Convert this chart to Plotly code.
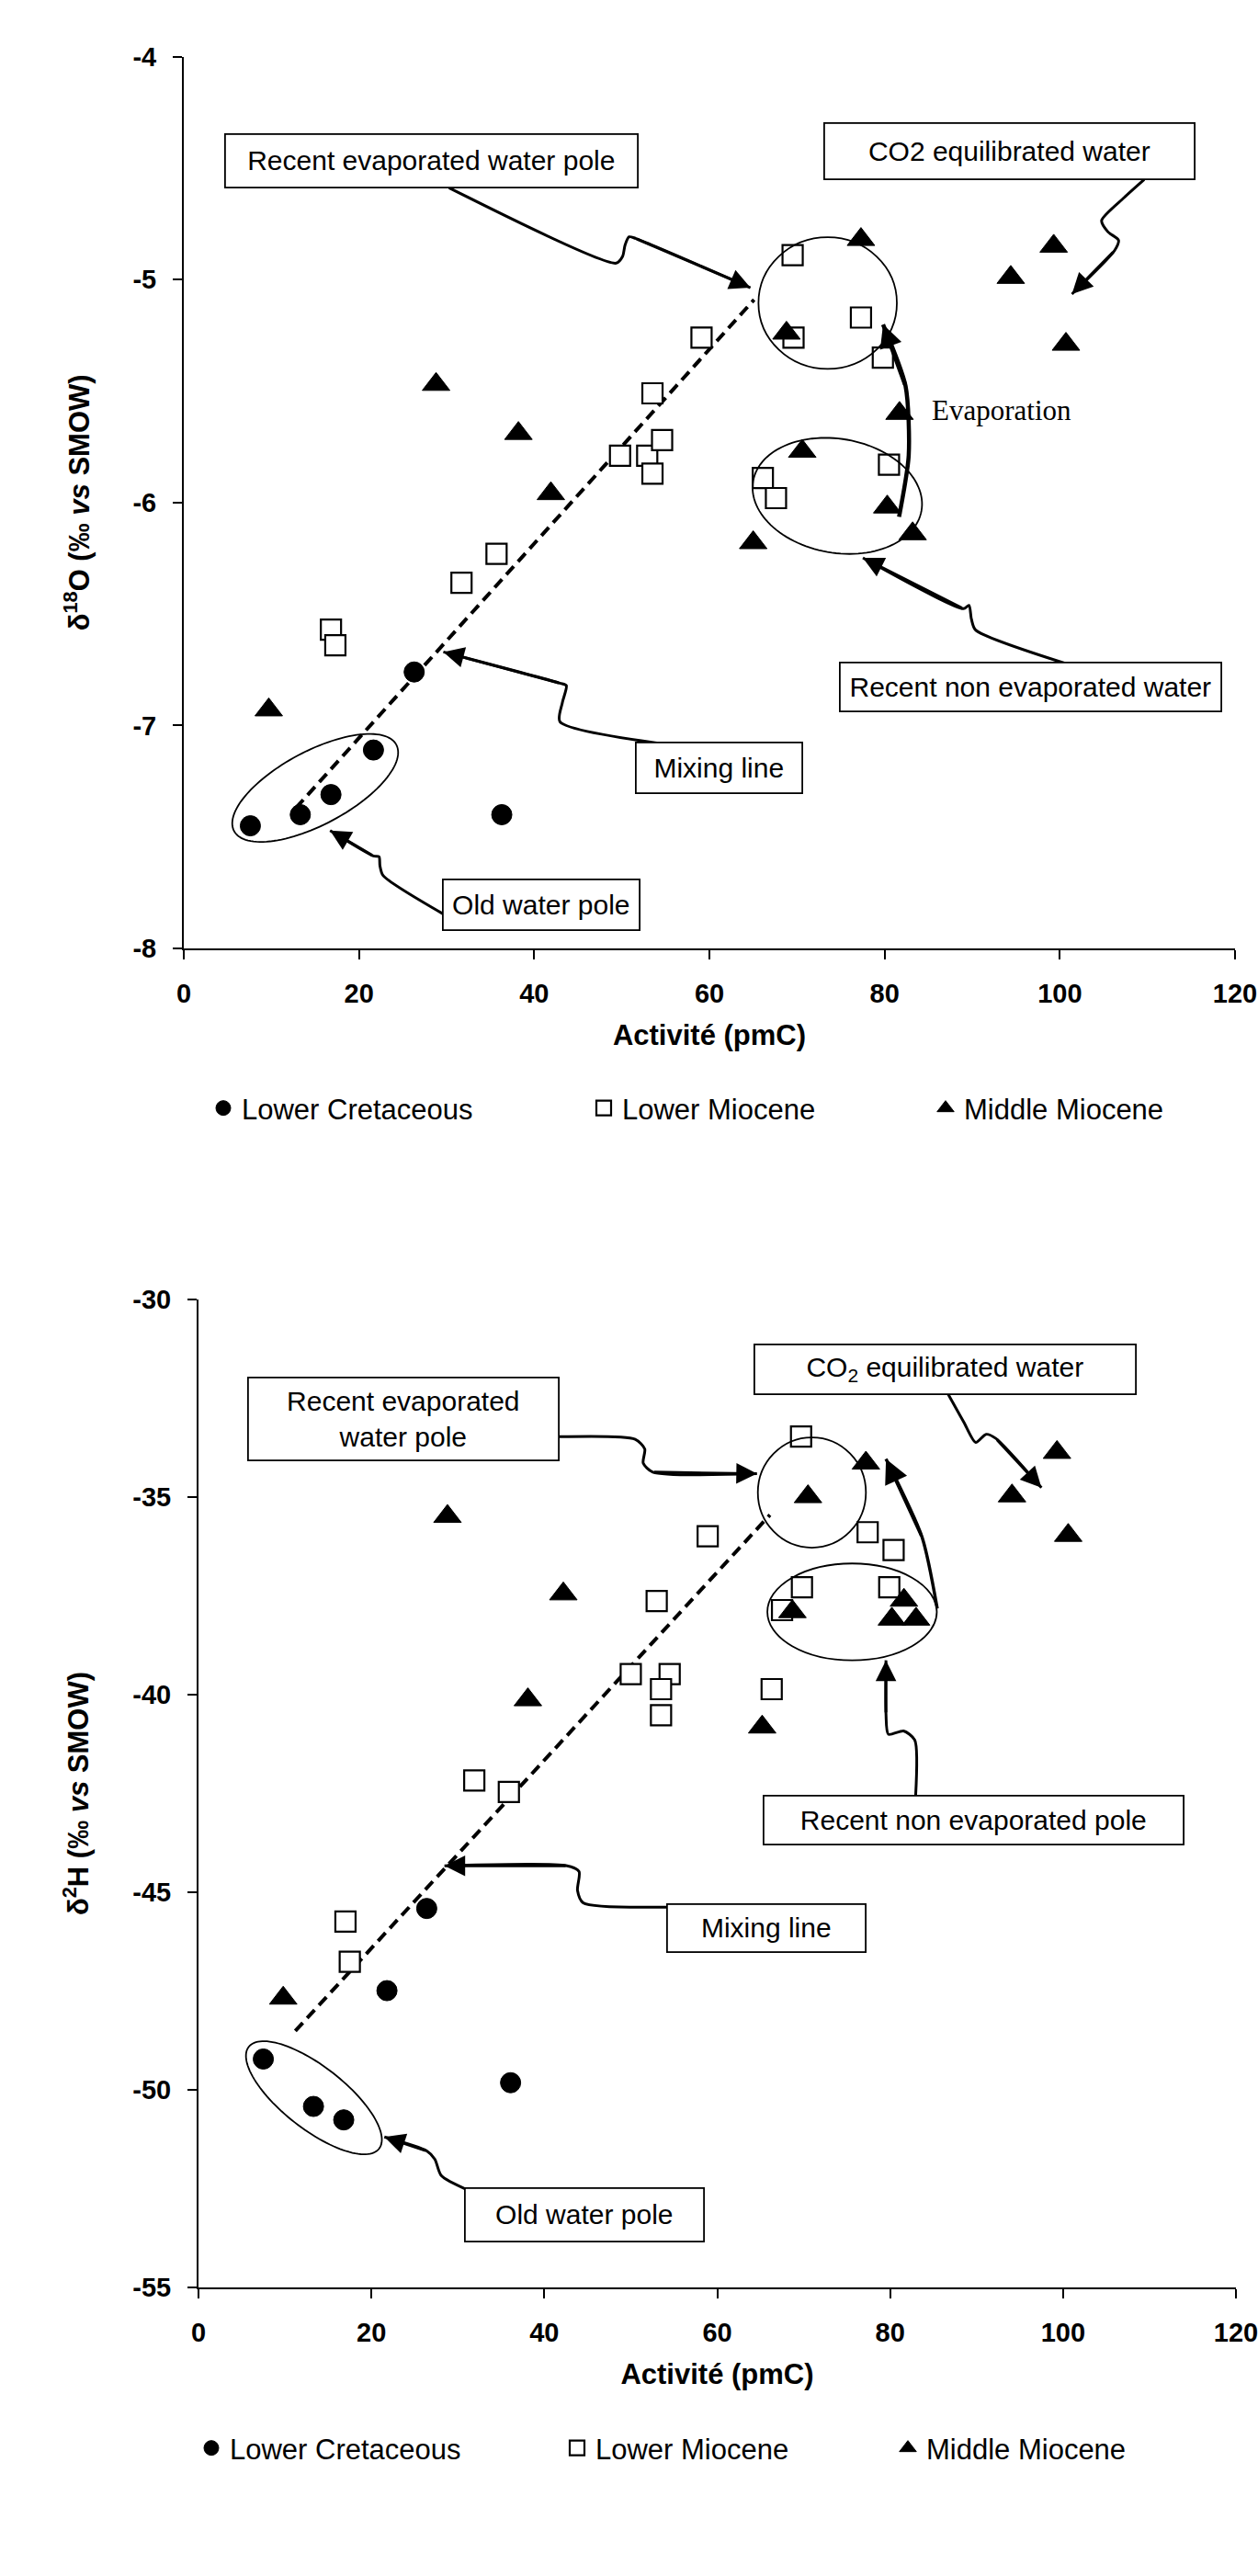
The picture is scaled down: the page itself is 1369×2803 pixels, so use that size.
import numpy as np
import plotly.graph_objects as go

W, H = 1369, 2803

# ---------------- data: top panel (delta 18O vs activity) ----------------
lc_x_o = [7.6, 13.3, 16.8, 21.65, 26.3, 36.3]
lc_y_o = [-7.45, -7.40, -7.31, -7.11, -6.76, -7.40]

lm_x_o = [69.5, 77.3, 69.6, 79.8, 59.1, 53.5, 49.8, 52.9, 54.6, 53.5, 80.5, 66.1, 67.6, 35.7, 31.7, 16.8, 17.3]
lm_y_o = [-4.89, -5.17, -5.26, -5.35, -5.26, -5.51, -5.79, -5.79, -5.72, -5.87, -5.83, -5.89, -5.98, -6.23, -6.36, -6.57, -6.64]

mm_x_o = [77.3, 99.3, 94.4, 100.7, 68.8, 28.8, 38.2, 81.7, 41.9, 70.6, 80.3, 83.2, 65.0, 9.7]
mm_y_o = [-4.82, -4.85, -4.99, -5.29, -5.24, -5.47, -5.69, -5.60, -5.96, -5.77, -6.02, -6.14, -6.18, -6.93]

mix_x_o = [12.8, 65.1]
mix_y_o = [-7.37, -5.09]

# ---------------- data: bottom panel (delta 2H vs activity) ----------------
lc_x_h = [7.5, 13.3, 16.8, 21.8, 26.4, 36.1]
lc_y_h = [-49.22, -50.42, -50.76, -47.49, -45.41, -49.82]

lm_x_h = [69.7, 58.9, 77.4, 80.4, 69.8, 79.9, 67.5, 53.0, 50.0, 54.5, 53.5, 53.5, 66.3, 31.9, 35.9, 17.0, 17.5]
lm_y_h = [-33.47, -35.99, -35.89, -36.34, -37.28, -37.28, -37.86, -37.63, -39.48, -39.48, -39.86, -40.52, -39.86, -42.17, -42.46, -45.74, -46.76]

mm_x_h = [28.8, 77.2, 70.5, 94.1, 99.3, 100.6, 42.2, 81.6, 68.7, 80.2, 83.0, 38.1, 65.2, 9.8]
mm_y_h = [-35.49, -34.14, -34.99, -34.97, -33.87, -35.97, -37.45, -37.61, -37.90, -38.09, -38.09, -40.13, -40.82, -47.68]

mix_x_h = [11.2, 66.1]
mix_y_h = [-48.51, -35.45]

series_names = ["Lower Cretaceous", "Lower Miocene", "Middle Miocene"]
x_ticks = [0, 20, 40, 60, 80, 100, 120]
y_ticks_o = [-8, -7, -6, -5, -4]
y_ticks_h = [-55, -50, -45, -40, -35, -30]
x_ticktext = ["0", "20", "40", "60", "80", "100", "120"]
y_ticktext_o = ["-8", "-7", "-6", "-5", "-4"]
y_ticktext_h = ["-55", "-50", "-45", "-40", "-35", "-30"]

# ---------------- layout geometry (pixels) ----------------
TOP = dict(x0=200, x1=1344, y0=61.7, y1=1032, xr=(0, 120), yr=(-8, -4))
BOT = dict(x0=216, x1=1345, y0=1414, y1=2489, xr=(0, 120), yr=(-55, -30))

def k(panel):
    kx = (panel["x1"] - panel["x0"]) / (panel["xr"][1] - panel["xr"][0])
    ky = (panel["y1"] - panel["y0"]) / (panel["yr"][1] - panel["yr"][0])
    return kx, ky

# ---------------- annotation decorations ----------------
# arrows: point lists in data units (last point = arrow tip)
arrows_top = [
    ([30.28, 49.36, 50.09, 50.37, 50.83, 51.56, 64.68], [-4.588, -4.926, -4.896, -4.845, -4.808, -4.815, -5.036], 3),
    ([109.63, 107.34, 104.77, 105.50, 106.70, 106.24, 101.38], [-4.551, -4.632, -4.735, -4.786, -4.823, -4.870, -5.065], 3),
    ([81.65, 82.75, 82.39, 79.82], [-6.064, -5.789, -5.477, -5.201], 4.5),
    ([100.92, 90.37, 89.91, 89.63, 88.99, 77.52], [-6.725, -6.571, -6.523, -6.461, -6.476, -6.248], 3),
    ([56.88, 42.94, 43.21, 43.67, 42.94, 29.63], [-7.093, -6.983, -6.898, -6.821, -6.810, -6.670], 3),
    ([29.63, 22.75, 22.39, 22.29, 21.65, 16.70], [-7.846, -7.673, -7.629, -7.589, -7.585, -7.471], 3),
]
arrows_bot = [
    ([41.71, 50.51, 51.62, 51.44, 52.55, 64.60], [-33.473, -33.536, -33.785, -34.139, -34.368, -34.409], 3),
    ([86.65, 88.51, 89.90, 91.10, 92.22, 97.50], [-32.371, -33.099, -33.619, -33.411, -33.515, -34.763], 3),
    ([85.45, 83.69, 79.52], [-37.820, -36.011, -34.035], 3.5),
    ([82.95, 82.85, 81.56, 79.80, 79.52, 79.52], [-42.562, -41.148, -40.919, -41.003, -40.483, -39.131], 3),
    ([55.14, 44.49, 43.84, 44.02, 42.63, 28.45], [-45.370, -45.266, -44.954, -44.476, -44.330, -44.330], 3),
    ([31.23, 28.08, 27.34, 26.41, 21.50], [-52.546, -52.171, -51.755, -51.547, -51.193], 3),
]

# ellipses: axis aligned (x0, x1, y0, y1) and rotated (cx, cy, a_px, b_px, angle)
ell_box_top = [(65.6, 81.4, -5.40, -4.81)]
ell_rot_top = [(74.6, -5.97, 93, 62, -10), (15.0, -7.28, 100, 40, 28)]
ell_box_bot = [(64.7, 77.2, -36.28, -33.49), (65.8, 85.4, -39.13, -36.68)]
ell_rot_bot = [(13.35, -50.20, 90, 34, -38)]

# text boxes: text, centre px, width, height
boxes = [
    ("Recent evaporated water pole", 469.5, 175, 447, 56),
    ("CO2 equilibrated water", 1098.5, 164.5, 401, 59),
    ("Recent non evaporated water", 1121.5, 747.5, 413, 51),
    ("Mixing line", 782.5, 835.5, 179, 53),
    ("Old water pole", 589, 984.5, 212, 53),
    ("Recent evaporated<br>water pole", 439, 1544, 336, 88),
    ("CO<sub>2</sub> equilibrated water", 1028.5, 1490, 413, 52),
    ("Recent non evaporated pole", 1059.5, 1980.5, 455, 51),
    ("Mixing line", 834, 2098, 214, 50),
    ("Old water pole", 636, 2410, 258, 56),
]

# legend positions (symbol centre px x, centre y px)
legend_pos_top = [(247, 1206), (661, 1206), (1033, 1206)]
legend_pos_bot = [(234, 2664), (632, 2664), (992, 2664)]

FONT = "Liberation Sans, Arial, sans-serif"

fig = go.Figure()

def ellipse_path(cx, cy, a, b, ang, panel):
    kx, ky = k(panel)
    t = np.linspace(0, 2 * np.pi, 121)
    th = np.radians(ang)
    dx = a * np.cos(t) * np.cos(th) - b * np.sin(t) * np.sin(th)
    dy = a * np.cos(t) * np.sin(th) + b * np.sin(t) * np.cos(th)
    xs = cx + dx / kx
    ys = cy + dy / ky
    return "M " + " L ".join(f"{x:.4f},{y:.5f}" for x, y in zip(xs, ys)) + " Z"

shapes = []
annotations = []

for (arrows, ell_box, ell_rot, panel, xa, ya) in [
    (arrows_top, ell_box_top, ell_rot_top, TOP, "x", "y"),
    (arrows_bot, ell_box_bot, ell_rot_bot, BOT, "x2", "y2"),
]:
    for xs, ys, lw in arrows:
        fig.add_trace(go.Scatter(x=xs, y=ys, mode="lines",
                                 line=dict(color="black", width=lw, shape="spline", smoothing=0.7),
                                 showlegend=False, hoverinfo="skip", xaxis=xa, yaxis=ya))
        annotations.append(dict(x=xs[-1], y=ys[-1], ax=xs[-2], ay=ys[-2], xref=xa, yref=ya,
                                axref=xa, ayref=ya, text="", showarrow=True, arrowhead=2,
                                arrowsize=1.5 if lw < 4 else 1.1, arrowwidth=lw, arrowcolor="black",
                                standoff=0))
    for x0, x1, y0, y1 in ell_box:
        shapes.append(dict(type="circle", xref=xa, yref=ya, x0=x0, x1=x1, y0=y0, y1=y1,
                           line=dict(color="black", width=1.8)))
    for cx, cy, a, b, ang in ell_rot:
        shapes.append(dict(type="path", xref=xa, yref=ya, path=ellipse_path(cx, cy, a, b, ang, panel),
                           line=dict(color="black", width=1.8)))

# mixing lines
fig.add_trace(go.Scatter(x=mix_x_o, y=mix_y_o, mode="lines", line=dict(color="black", width=4, dash="12px,7px"),
                         showlegend=False, hoverinfo="skip", xaxis="x", yaxis="y"))
fig.add_trace(go.Scatter(x=mix_x_h, y=mix_y_h, mode="lines", line=dict(color="black", width=4, dash="12px,7px"),
                         showlegend=False, hoverinfo="skip", xaxis="x2", yaxis="y2"))

styles = [
    dict(symbol="circle", size=22, color="black", line=dict(color="black", width=1)),
    dict(symbol="square", size=22, color="white", line=dict(color="black", width=2.2)),
    dict(symbol="triangle-up", size=26, color="black", line=dict(color="black", width=1)),
]

top_sets = [(lc_x_o, lc_y_o), (lm_x_o, lm_y_o), (mm_x_o, mm_y_o)]
bot_sets = [(lc_x_h, lc_y_h), (lm_x_h, lm_y_h), (mm_x_h, mm_y_h)]
for i, (xs, ys) in enumerate(top_sets):
    fig.add_trace(go.Scatter(x=xs, y=ys, mode="markers", name=series_names[i], marker=styles[i],
                             xaxis="x", yaxis="y", legend="legend" if i == 0 else f"legend{i + 1}"))
for i, (xs, ys) in enumerate(bot_sets):
    fig.add_trace(go.Scatter(x=xs, y=ys, mode="markers", name=series_names[i], marker=styles[i],
                             xaxis="x2", yaxis="y2", legend=f"legend{i + 4}"))

for text, cx, cy, w, h in boxes:
    annotations.append(dict(text=text, x=cx / W, y=1 - cy / H, xref="paper", yref="paper",
                            xanchor="center", yanchor="middle", width=w, height=h, showarrow=False,
                            bordercolor="black", borderwidth=1.8, borderpad=0, bgcolor="white",
                            font=dict(family=FONT, size=30, color="black")))

annotations.append(dict(text="Evaporation", x=1090 / W, y=1 - 447 / H, xref="paper", yref="paper",
                        xanchor="center", yanchor="middle", showarrow=False,
                        font=dict(family="Liberation Serif, Times New Roman, serif", size=31, color="black")))

tickfont = dict(family=FONT, size=29, color="black", weight="bold")
titlefont = dict(family=FONT, size=31, color="black", weight="bold")

def xaxis(panel, anchor):
    return dict(domain=[panel["x0"] / W, panel["x1"] / W], range=list(panel["xr"]), anchor=anchor,
                tickvals=x_ticks, ticktext=x_ticktext, showline=True, linecolor="black", linewidth=2,
                ticks="outside", ticklen=10, tickwidth=2, tickcolor="black", showgrid=False, zeroline=False,
                tickfont=tickfont, ticklabelstandoff=12, ticklabeloverflow="allow", automargin=False,
                title=dict(text="Activité (pmC)", font=titlefont, standoff=20))

def yaxis(panel, anchor, ticks, ticktext, title):
    return dict(domain=[1 - panel["y1"] / H, 1 - panel["y0"] / H], range=list(panel["yr"]), anchor=anchor,
                tickvals=ticks, ticktext=ticktext, showline=True, linecolor="black", linewidth=2,
                ticks="outside", ticklen=10, tickwidth=2, tickcolor="black", showgrid=False, zeroline=False,
                tickfont=tickfont, ticklabelstandoff=12, ticklabeloverflow="allow", automargin=False,
                title=dict(text=title, font=titlefont, standoff=38))

legends = {}
for i, (px, py) in enumerate(legend_pos_top + legend_pos_bot):
    key = "legend" if i == 0 else f"legend{i + 1}"
    legends[key] = dict(x=(px - 24) / W, y=1 - py / H, xanchor="left", yanchor="middle",
                        bgcolor="rgba(0,0,0,0)", borderwidth=0,
                        font=dict(family=FONT, size=31, color="black"))

fig.update_layout(
    width=W, height=H, margin=dict(l=0, r=0, t=0, b=0, pad=0, autoexpand=False),
    paper_bgcolor="white", plot_bgcolor="white",
    xaxis=xaxis(TOP, "y"),
    yaxis=yaxis(TOP, "x", y_ticks_o, y_ticktext_o, "δ<sup>18</sup>O (‰ <i>vs</i> SMOW)"),
    xaxis2=xaxis(BOT, "y2"),
    yaxis2=yaxis(BOT, "x2", y_ticks_h, y_ticktext_h, "δ<sup>2</sup>H (‰ <i>vs</i> SMOW)"),
    shapes=shapes, annotations=annotations, showlegend=True,
    **legends,
)

fig.write_html("out.html", config={"displayModeBar": False},
               post_script="document.body.style.margin='0';document.body.style.padding='0';")
